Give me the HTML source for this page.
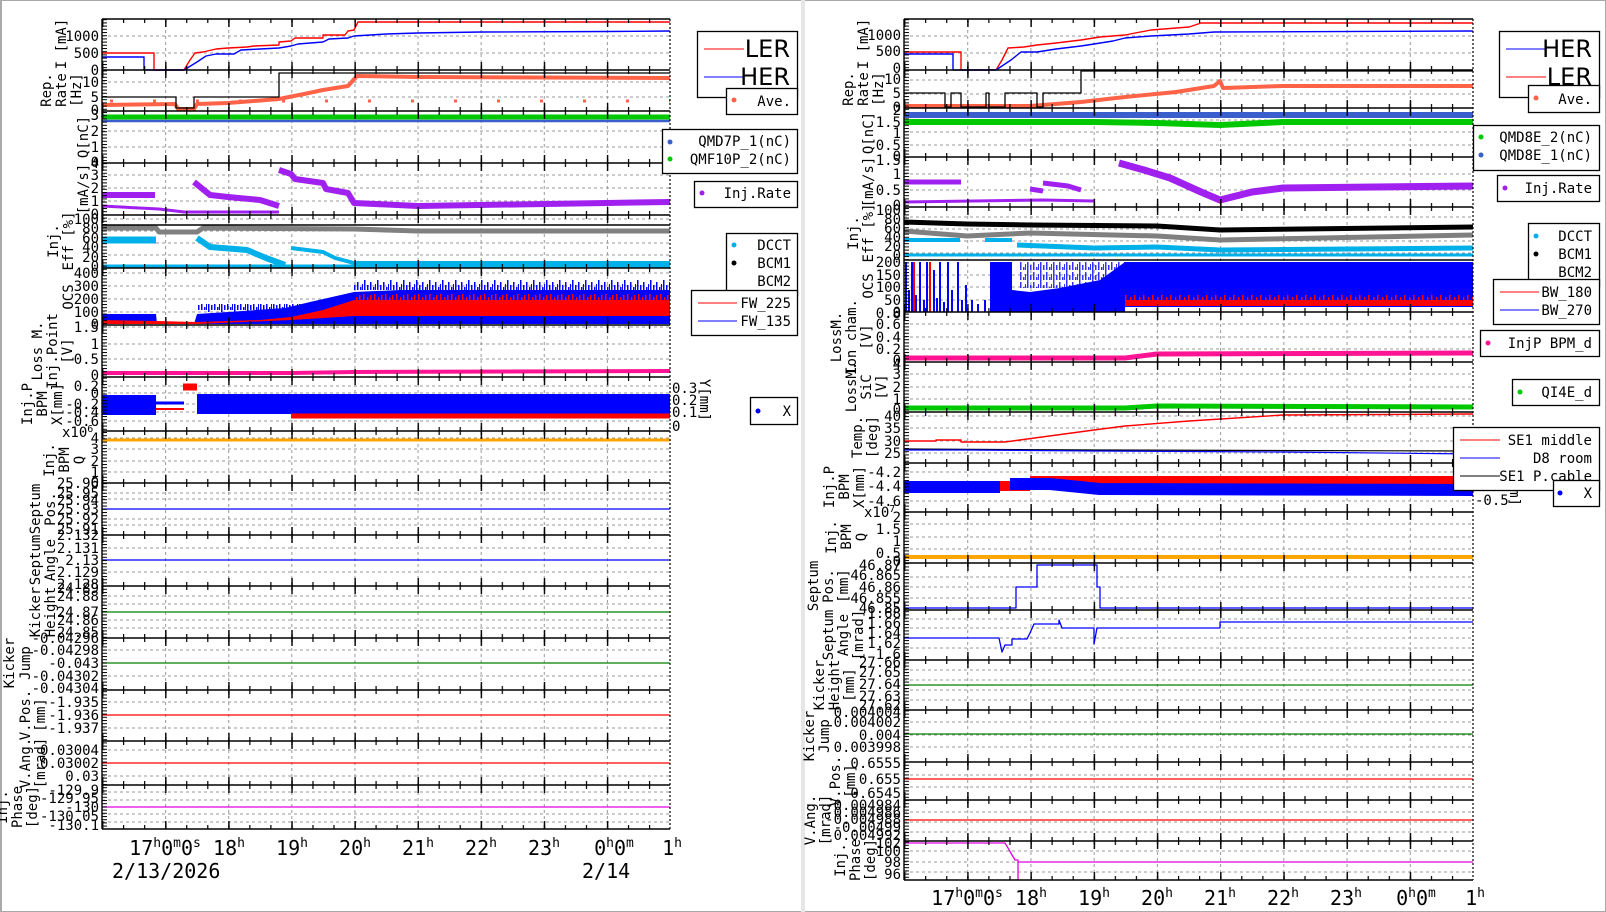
<!DOCTYPE html>
<html><head><meta charset="utf-8"><style>
html,body{margin:0;padding:0;background:#fff;}
svg{display:block;}
text{font-family:"DejaVu Sans Mono","Liberation Mono",monospace;fill:#000;}
.tk{font-size:14px;text-anchor:end;}
.yl{font-size:14px;text-anchor:middle;}
.xl{font-size:20px;text-anchor:middle;}
.lg{font-size:14px;text-anchor:end;}
</style></head><body>
<svg width="1606" height="912" viewBox="0 0 1606 912" xmlns="http://www.w3.org/2000/svg">
<defs>
<pattern id="mjL" x="102" y="0" width="63.111" height="2000" patternUnits="userSpaceOnUse"><rect x="0" y="0" width="1.4" height="2000" fill="#000"/></pattern>
<pattern id="miL" x="102" y="0" width="21.037" height="2000" patternUnits="userSpaceOnUse"><rect x="0" y="0" width="1.2" height="2000" fill="#000"/></pattern>
<pattern id="mjR" x="904" y="0" width="63.222" height="2000" patternUnits="userSpaceOnUse"><rect x="0" y="0" width="1.4" height="2000" fill="#000"/></pattern>
<pattern id="miR" x="904" y="0" width="21.074" height="2000" patternUnits="userSpaceOnUse"><rect x="0" y="0" width="1.2" height="2000" fill="#000"/></pattern>
<pattern id="gL" x="102" y="0" width="63.111" height="6" patternUnits="userSpaceOnUse"><rect x="0" y="0" width="1" height="3" fill="#999"/></pattern>
<pattern id="gR" x="904" y="0" width="63.222" height="6" patternUnits="userSpaceOnUse"><rect x="0" y="0" width="1" height="3" fill="#999"/></pattern>
<pattern id="yt" x="0" y="0" width="10" height="3.2" patternUnits="userSpaceOnUse"><rect x="0" y="0" width="10" height="1" fill="#000"/></pattern>
<pattern id="spB" x="0" y="280" width="13" height="10" patternUnits="userSpaceOnUse"><rect x="0" y="0" width="1.5" height="10" fill="#00f"/><rect x="3" y="5" width="1.5" height="5" fill="#00f"/><rect x="6" y="2" width="1.5" height="8" fill="#00f"/><rect x="9" y="7" width="1.5" height="3" fill="#00f"/><rect x="11" y="4" width="1" height="6" fill="#00f"/></pattern>
<pattern id="spR" x="0" y="294" width="11" height="6" patternUnits="userSpaceOnUse"><rect x="0" y="0" width="1.5" height="6" fill="#f00"/><rect x="4" y="3" width="1.5" height="3" fill="#f00"/><rect x="7" y="1" width="1.5" height="5" fill="#f00"/></pattern>
<pattern id="spR2" x="0" y="294" width="9" height="6" patternUnits="userSpaceOnUse"><rect x="0" y="1" width="1.5" height="5" fill="#f00"/><rect x="5" y="3" width="1.5" height="3" fill="#f00"/></pattern>
</defs>
<rect x="0" y="0" width="1606" height="912" fill="#fff"/>
<rect x="0.5" y="0.5" width="1605" height="911" fill="none" stroke="#aaa" stroke-width="1"/>
<rect x="0" y="0" width="2" height="912" fill="#aaa"/>
<rect x="801" y="0" width="4" height="912" fill="#e6e6e6"/>

<!-- grids -->
<rect x="103" y="19" width="566" height="810" fill="url(#gL)"/>
<rect x="905" y="19" width="567" height="861" fill="url(#gR)"/>
<path fill="none" stroke="#999" stroke-width="1" stroke-dasharray="3,3" d="M102 36H670M102 53H670M102 82H670M102 97H670M102 115H670M102 131H670M102 147H670M102 175H670M102 188H670M102 201H670M102 219H670M102 231H670M102 243H670M102 255H670M102 273H670M102 286H670M102 299H670M102 312H670M102 327H670M102 344H670M102 359H670M102 386H670M102 393H670M102 404H670M102 412H670M102 421H670M102 438H670M102 449H670M102 461H670M102 472H670M102 493H670M102 499H670M102 509H670M102 519H670M102 525H670M102 548H670M102 560H670M102 572H670M102 596H670M102 604H670M102 612H670M102 620H670M102 628H670M102 650H670M102 663H670M102 676H670M102 702H670M102 715H670M102 728H670M102 750H670M102 763H670M102 776H670M102 792H670M102 800H670M102 807H670M102 814H670M102 822H670"/>
<path fill="none" stroke="#999" stroke-width="1" stroke-dasharray="3,3" d="M904 36H1473M904 53H1473M904 80H1473M904 94H1473M904 120H1473M904 132H1473M904 145H1473M904 174H1473M904 190H1473M904 217H1473M904 229H1473M904 241H1473M904 253H1473M904 275H1473M904 287H1473M904 300H1473M904 324H1473M904 337H1473M904 349H1473M904 374H1473M904 387H1473M904 399H1473M904 416H1473M904 428H1473M904 441H1473M904 453H1473M904 472H1473M904 486H1473M904 501H1473M904 524H1473M904 537H1473M904 549H1473M904 577H1473M904 587H1473M904 598H1473M904 619H1473M904 628H1473M904 638H1473M904 648H1473M904 670H1473M904 680H1473M904 690H1473M904 700H1473M904 722H1473M904 735H1473M904 747H1473M904 775H1473M904 787H1473M904 812H1473M904 822H1473M904 832H1473M904 851H1473M904 862H1473M904 872H1473"/>

<!-- ===== LEFT DATA ===== -->
<g fill="none" stroke-linejoin="round">
<path stroke="#f00" stroke-width="1.4" d="M102 53H154V70H184L190 60L195 53L203 52L216 49L228 48L247 47L254 46L279 45V42L291 41L295 38H323V35H345L348 31L354 30L358 22H670"/>
<path stroke="#00f" stroke-width="1.4" d="M102 57H144V70H184L197 62L206 56L216 54H234L241 50L260 49L279 48L291 46L298 44L323 42L329 39L348 38L354 36L386 34L418 33L481 32L607 31.5L670 31"/>
<path stroke="#ff6347" stroke-width="4" d="M102 105L175 104L178 109L194 109L197 104L228 103L279 99L304 94L323 90L348 86L357 76L418 77L670 78"/>
<path stroke="#000" stroke-width="1.3" d="M102 97H176V108H194V97H279V73H670"/>
<path stroke="#ff6347" stroke-width="3" stroke-dasharray="3,40" d="M110 101H670"/>
<path stroke="#3a5fcd" stroke-width="2.5" d="M102 121H670"/>
<path stroke="#00c800" stroke-width="5" d="M102 117H670"/>
<path stroke="#a020f0" stroke-width="6" d="M102 195H155"/>
<path stroke="#a020f0" stroke-width="3" d="M102 206L159 209L184 212L279 212"/>
<path stroke="#a020f0" stroke-width="6" d="M194 182L210 195L228 197L260 200L279 206"/>
<path stroke="#a020f0" stroke-width="6" d="M279 170L291 174L295 179L323 183L326 189L348 193L354 203L418 206L670 202"/>
<path stroke="#808080" stroke-width="5" d="M102 228H156L159 232H197L203 228L354 229L418 231H670"/>
<path stroke="#000" stroke-width="1.5" d="M102 225H670"/>
<path stroke="#00b0e8" stroke-width="7" d="M102 240H156"/>
<path stroke="#00b0e8" stroke-width="6" d="M197 238L210 247L247 250L266 258L285 265"/>
<path stroke="#00b0e8" stroke-width="4" d="M291 248L323 252L335 258L354 263H670"/>
<path stroke="#00b0e8" stroke-width="3" d="M102 266H670"/>
<path stroke="#ff1493" stroke-width="4" d="M102 373L291 373L354 372L670 371"/>
<path stroke="#ff0000" stroke-width="8" d="M197 400H279"/>
<path stroke="#ff0000" stroke-width="7" d="M183 387H197"/>
<path stroke="#0000ff" stroke-width="20" d="M102 405H156"/>
<path stroke="#0000ff" stroke-width="3" d="M156 403H184"/>
<path stroke="#ff0000" stroke-width="2" d="M156 409H184"/>
<path stroke="#0000ff" stroke-width="20" d="M197 404H670"/>
<path stroke="#ff0000" stroke-width="5" d="M291 416H670"/>
<path stroke="#ffa500" stroke-width="3" d="M102 440H670"/>
<path stroke="#00f" stroke-width="1.3" d="M102 509H670M102 560H670"/>
<path stroke="#008000" stroke-width="1.3" d="M102 612H670M102 663H670"/>
<path stroke="#f00" stroke-width="1.3" d="M102 715H670M102 763H670"/>
<path stroke="#e000e0" stroke-width="1.3" d="M102 807H670"/>
</g>
<path fill="#00f" d="M102 324L102 314L156 314L157 324L194 324L197 314L228 312L285 308L310 302L354 292L400 290L500 290L600 290L670 290L670 324Z"/>
<rect x="354" y="280" width="316" height="10" fill="url(#spB)"/>
<rect x="197" y="304" width="157" height="8" fill="url(#spB)"/>
<path fill="#f00" d="M102 320L156 321L197 322L260 320L291 317L323 310L354 300L670 300L670 316L354 316L291 320L197 324L102 324Z"/>
<rect x="354" y="294" width="316" height="6" fill="url(#spR)"/>

<!-- ===== RIGHT DATA ===== -->
<g fill="none" stroke-linejoin="round">
<path stroke="#f00" stroke-width="1.4" d="M904 52H961V70H996L1002 60L1008 48L1024 47L1037 45L1056 43L1081 40L1100 37L1125 35L1151 30L1189 27L1201 23H1473"/>
<path stroke="#00f" stroke-width="1.4" d="M904 54H953V70H996L1011 60L1021 52L1037 52L1056 49L1081 46L1094 44L1113 41L1125 38L1151 36L1189 34L1214 32L1473 31"/>
<path stroke="#ff6347" stroke-width="4" d="M904 106L1030 106L1081 102L1125 97L1176 92L1214 86L1220 81L1223 88L1283 86L1473 86"/>
<path stroke="#000" stroke-width="1.3" d="M904 93H945V107H951V93H961V107H986V93H989V107H1005V93H1037V107H1043V93H1081V71H1473"/>
<path stroke="#3a5fcd" stroke-width="6" d="M904 115H1473"/>
<path stroke="#00c800" stroke-width="6" d="M904 122L1094 122L1157 123L1220 125L1283 122L1473 122"/>
<path stroke="#a020f0" stroke-width="5" d="M904 182H961"/>
<path stroke="#a020f0" stroke-width="3" d="M904 202L1043 200L1094 201"/>
<path stroke="#a020f0" stroke-width="5" d="M1030 189L1043 191M1043 183L1068 186L1081 190"/>
<path stroke="#a020f0" stroke-width="7" d="M1119 163L1144 170L1170 178L1201 192L1220 200L1252 192L1283 188L1473 186"/>
<path stroke="#000" stroke-width="5" d="M904 222L967 224L1030 225L1157 226L1220 230L1473 227"/>
<path stroke="#808080" stroke-width="5" d="M904 231L967 236L1030 233L1157 236L1220 240L1473 235"/>
<path stroke="#00b0e8" stroke-width="5" d="M1017 245L1094 248L1157 247L1220 250L1473 248"/>
<path stroke="#00b0e8" stroke-width="4" d="M904 240H960M985 240H1012"/>
<path stroke="#00b0e8" stroke-width="3" d="M904 255H1473"/>
<path stroke="#00f" stroke-width="2" d="M906 312V262M909 312V290M912 312V262M916 312V295M920 312V262M924 312V300M927 312V262M934 312V270M937 312V298M940 312V262M944 312V302M948 312V262M952 312V290M958 312V262M962 312V300M966 312V285M972 312V300M978 312V304M985 312V300"/>
<path stroke="#f00" stroke-width="2" d="M914 312V262M930 312V262M1003 312V262M1008 312V270"/>
<path stroke="#ff1493" stroke-width="5" d="M904 358L1125 358L1157 354L1473 353"/>
<path stroke="#00c800" stroke-width="5" d="M904 408L1125 408L1157 406L1473 407"/>
<path stroke="#f00" stroke-width="1.4" d="M904 441H936V440H961V442H1005L1094 430L1125 426L1189 421L1283 415L1473 414"/>
<path stroke="#000" stroke-width="1.2" d="M904 449L1094 450L1473 451"/>
<path stroke="#00f" stroke-width="1.2" d="M904 450L967 450L1094 451L1283 452L1473 454"/>
<path stroke="#f00" stroke-width="10" d="M1000 486H1030M1030 481H1473"/>
<path stroke="#00f" stroke-width="12" d="M904 487H1000M1010 484H1050L1100 489L1473 490"/>
<path stroke="#ffa500" stroke-width="4" d="M904 557H1473"/>
<path stroke="#00f" stroke-width="1.3" d="M904 608H1016V587H1037V565H1097V587H1100V608H1473"/>
<path stroke="#00f" stroke-width="1.3" d="M904 638H999L1002 652L1005 645H1012V639H1027L1030 633L1034 624H1059V620L1062 628H1094V644L1097 628H1220V622H1473"/>
<path stroke="#008000" stroke-width="1.3" d="M904 685H1473M904 734H1473"/>
<path stroke="#f00" stroke-width="1.3" d="M904 779H1473M904 820H1473"/>
<path stroke="#e000e0" stroke-width="1.3" d="M904 843H1005L1008 848L1012 855L1015 860H1018V880M1018 862H1473"/>
</g>
<path fill="#00f" d="M990 312V262H1000V262L1012 262V290L1030 292L1060 288L1100 280L1125 262V312Z"/>
<rect x="1020" y="262" width="105" height="26" fill="url(#spB)" opacity="0.8"/>
<rect x="1125" y="262" width="348" height="45" fill="#00f"/>
<rect x="1125" y="300" width="348" height="6" fill="#f00"/>
<rect x="1125" y="294" width="348" height="6" fill="url(#spR2)"/>

<!-- frames & ticks LEFT -->
<path fill="none" stroke="#000" stroke-width="1.4" d="M102 19H670M102 70H670M102 111H670M102 163H670M102 215H670M102 268H670M102 325H670M102 377H670M102 431H670M102 483H670M102 535H670M102 586H670M102 638H670M102 690H670M102 741H670M102 785H670M102 829H670M102 19V829"/>
<path fill="none" stroke="#000" stroke-width="1.2" stroke-dasharray="2,2" d="M670 19V829"/>
<g>
<rect x="102" y="19" width="568" height="8" fill="url(#mjL)"/><rect x="102" y="19" width="568" height="4" fill="url(#miL)"/>
<rect x="102" y="62" width="568" height="16" fill="url(#mjL)"/><rect x="102" y="66" width="568" height="8" fill="url(#miL)"/>
<rect x="102" y="103" width="568" height="16" fill="url(#mjL)"/><rect x="102" y="107" width="568" height="8" fill="url(#miL)"/>
<rect x="102" y="155" width="568" height="16" fill="url(#mjL)"/><rect x="102" y="159" width="568" height="8" fill="url(#miL)"/>
<rect x="102" y="207" width="568" height="16" fill="url(#mjL)"/><rect x="102" y="211" width="568" height="8" fill="url(#miL)"/>
<rect x="102" y="260" width="568" height="16" fill="url(#mjL)"/><rect x="102" y="264" width="568" height="8" fill="url(#miL)"/>
<rect x="102" y="317" width="568" height="16" fill="url(#mjL)"/><rect x="102" y="321" width="568" height="8" fill="url(#miL)"/>
<rect x="102" y="369" width="568" height="16" fill="url(#mjL)"/><rect x="102" y="373" width="568" height="8" fill="url(#miL)"/>
<rect x="102" y="423" width="568" height="16" fill="url(#mjL)"/><rect x="102" y="427" width="568" height="8" fill="url(#miL)"/>
<rect x="102" y="475" width="568" height="16" fill="url(#mjL)"/><rect x="102" y="479" width="568" height="8" fill="url(#miL)"/>
<rect x="102" y="527" width="568" height="16" fill="url(#mjL)"/><rect x="102" y="531" width="568" height="8" fill="url(#miL)"/>
<rect x="102" y="578" width="568" height="16" fill="url(#mjL)"/><rect x="102" y="582" width="568" height="8" fill="url(#miL)"/>
<rect x="102" y="630" width="568" height="16" fill="url(#mjL)"/><rect x="102" y="634" width="568" height="8" fill="url(#miL)"/>
<rect x="102" y="682" width="568" height="16" fill="url(#mjL)"/><rect x="102" y="686" width="568" height="8" fill="url(#miL)"/>
<rect x="102" y="733" width="568" height="16" fill="url(#mjL)"/><rect x="102" y="737" width="568" height="8" fill="url(#miL)"/>
<rect x="102" y="777" width="568" height="16" fill="url(#mjL)"/><rect x="102" y="781" width="568" height="8" fill="url(#miL)"/>
<rect x="102" y="821" width="568" height="8" fill="url(#mjL)"/><rect x="102" y="825" width="568" height="4" fill="url(#miL)"/>
<rect x="102" y="19" width="5" height="810" fill="url(#yt)"/>
</g>
<!-- frames & ticks RIGHT -->
<path fill="none" stroke="#000" stroke-width="1.4" d="M904 19H1473M904 70H1473M904 108H1473M904 157H1473M904 207H1473M904 260H1473M904 312H1473M904 362H1473M904 412H1473M904 463H1473M904 512H1473M904 563H1473M904 610H1473M904 660H1473M904 710H1473M904 762H1473M904 800H1473M904 841H1473M904 880H1473M904 19V880"/>
<path fill="none" stroke="#000" stroke-width="1.2" stroke-dasharray="2,2" d="M1473 19V880"/>
<g>
<rect x="904" y="19" width="569" height="8" fill="url(#mjR)"/><rect x="904" y="19" width="569" height="4" fill="url(#miR)"/>
<rect x="904" y="62" width="569" height="16" fill="url(#mjR)"/><rect x="904" y="66" width="569" height="8" fill="url(#miR)"/>
<rect x="904" y="100" width="569" height="16" fill="url(#mjR)"/><rect x="904" y="104" width="569" height="8" fill="url(#miR)"/>
<rect x="904" y="149" width="569" height="16" fill="url(#mjR)"/><rect x="904" y="153" width="569" height="8" fill="url(#miR)"/>
<rect x="904" y="199" width="569" height="16" fill="url(#mjR)"/><rect x="904" y="203" width="569" height="8" fill="url(#miR)"/>
<rect x="904" y="304" width="569" height="16" fill="url(#mjR)"/><rect x="904" y="308" width="569" height="8" fill="url(#miR)"/>
<rect x="904" y="354" width="569" height="16" fill="url(#mjR)"/><rect x="904" y="358" width="569" height="8" fill="url(#miR)"/>
<rect x="904" y="404" width="569" height="16" fill="url(#mjR)"/><rect x="904" y="408" width="569" height="8" fill="url(#miR)"/>
<rect x="904" y="455" width="569" height="16" fill="url(#mjR)"/><rect x="904" y="459" width="569" height="8" fill="url(#miR)"/>
<rect x="904" y="504" width="569" height="16" fill="url(#mjR)"/><rect x="904" y="508" width="569" height="8" fill="url(#miR)"/>
<rect x="904" y="555" width="569" height="16" fill="url(#mjR)"/><rect x="904" y="559" width="569" height="8" fill="url(#miR)"/>
<rect x="904" y="602" width="569" height="16" fill="url(#mjR)"/><rect x="904" y="606" width="569" height="8" fill="url(#miR)"/>
<rect x="904" y="652" width="569" height="16" fill="url(#mjR)"/><rect x="904" y="656" width="569" height="8" fill="url(#miR)"/>
<rect x="904" y="702" width="569" height="16" fill="url(#mjR)"/><rect x="904" y="706" width="569" height="8" fill="url(#miR)"/>
<rect x="904" y="754" width="569" height="16" fill="url(#mjR)"/><rect x="904" y="758" width="569" height="8" fill="url(#miR)"/>
<rect x="904" y="792" width="569" height="16" fill="url(#mjR)"/><rect x="904" y="796" width="569" height="8" fill="url(#miR)"/>
<rect x="904" y="833" width="569" height="16" fill="url(#mjR)"/><rect x="904" y="837" width="569" height="8" fill="url(#miR)"/>
<rect x="904" y="872" width="569" height="8" fill="url(#mjR)"/><rect x="904" y="876" width="569" height="4" fill="url(#miR)"/>
<rect x="904" y="19" width="5" height="861" fill="url(#yt)"/>
</g>

<!-- LEFT tick labels -->
<g class="tk">
<text x="99" y="41">1000</text><text x="99" y="58">500</text><text x="99" y="75">0</text>
<text x="99" y="87">10</text><text x="99" y="102">5</text><text x="99" y="115">0</text>
<text x="99" y="120">3</text><text x="99" y="136">2</text><text x="99" y="152">1</text><text x="99" y="167">0</text>
<text x="99" y="168">4</text><text x="99" y="180">3</text><text x="99" y="193">2</text><text x="99" y="206">1</text><text x="99" y="219">0</text>
<text x="99" y="224">100</text><text x="99" y="233">80</text><text x="99" y="243">60</text><text x="99" y="252">40</text><text x="99" y="262">20</text><text x="99" y="271">0</text>
<text x="99" y="278">400</text><text x="99" y="291">300</text><text x="99" y="304">200</text><text x="99" y="317">100</text><text x="99" y="329">0</text>
<text x="99" y="332">1.5</text><text x="99" y="349">1</text><text x="99" y="364">0.5</text><text x="99" y="380">0</text>
<text x="99" y="391">0.2</text><text x="99" y="398">0</text><text x="99" y="409">-0.2</text><text x="99" y="417">-0.4</text><text x="99" y="426">-0.6</text>
<text x="62" y="437" style="text-anchor:start">x10<tspan dy="-5" font-size="10">6</tspan></text>
<text x="99" y="443">4</text><text x="99" y="454">3</text><text x="99" y="466">2</text><text x="99" y="477">1</text><text x="99" y="487">0</text>
<text x="99" y="488">25.96</text><text x="99" y="498">25.95</text><text x="99" y="505">25.94</text><text x="99" y="514">25.93</text><text x="99" y="524">25.92</text><text x="99" y="534">25.91</text>
<text x="99" y="540">2.132</text><text x="99" y="553">2.131</text><text x="99" y="565">2.13</text><text x="99" y="577">2.129</text><text x="99" y="589">2.128</text>
<text x="99" y="593">24.89</text><text x="99" y="601">24.88</text><text x="99" y="617">24.87</text><text x="99" y="625">24.86</text><text x="99" y="637">24.85</text>
<text x="99" y="643">-0.04296</text><text x="99" y="655">-0.04298</text><text x="99" y="668">-0.043</text><text x="99" y="681">-0.04302</text><text x="99" y="693">-0.04304</text>
<text x="99" y="707">-1.935</text><text x="99" y="720">-1.936</text><text x="99" y="733">-1.937</text>
<text x="99" y="755">0.03004</text><text x="99" y="768">0.03002</text><text x="99" y="781">0.03</text>
<text x="99" y="795">-129.9</text><text x="99" y="803">-129.95</text><text x="99" y="812">-130</text><text x="99" y="821">-130.05</text><text x="99" y="830">-130.1</text>
</g>
<g class="tk" style="text-anchor:start">
<text x="672" y="393">0.3</text><text x="672" y="405">0.2</text><text x="672" y="417">0.1</text><text x="672" y="431">0</text>
</g>
<text class="yl" transform="translate(700,400) rotate(90)">Y[mm]</text>

<g class="yl">
<text transform="translate(66,44) rotate(-90)">I [mA]</text>
<text transform="translate(51,90) rotate(-90)">Rep.</text>
<text transform="translate(66,90) rotate(-90)">Rate</text>
<text transform="translate(81,90) rotate(-90)">[Hz]</text>
<text transform="translate(88,137) rotate(-90)">Q[nC]</text>
<text transform="translate(88,189) rotate(-90)">[mA/s]</text>
<text transform="translate(58,241) rotate(-90)">Inj.</text>
<text transform="translate(73,241) rotate(-90)">Eff [%]</text>
<text transform="translate(73,297) rotate(-90)">OCS</text>
<text transform="translate(42,351) rotate(-90)">Loss M.</text>
<text transform="translate(57,351) rotate(-90)">Inj.Point</text>
<text transform="translate(72,351) rotate(-90)">[V]</text>
<text transform="translate(32,404) rotate(-90)">Inj.P</text>
<text transform="translate(47,404) rotate(-90)">BPM</text>
<text transform="translate(62,404) rotate(-90)">X[mm]</text>
<text transform="translate(54,460) rotate(-90)">Inj.</text>
<text transform="translate(69,460) rotate(-90)">BPM</text>
<text transform="translate(84,460) rotate(-90)">Q</text>
<text transform="translate(40,509) rotate(-90)">Septum</text>
<text transform="translate(55,509) rotate(-90)">Pos.</text>
<text transform="translate(40,560) rotate(-90)">Septum</text>
<text transform="translate(55,560) rotate(-90)">Angle</text>
<text transform="translate(40,612) rotate(-90)">Kicker</text>
<text transform="translate(55,612) rotate(-90)">Height</text>
<text transform="translate(14,663) rotate(-90)">Kicker</text>
<text transform="translate(30,663) rotate(-90)">Jump</text>
<text transform="translate(30,715) rotate(-90)">V.Pos.</text>
<text transform="translate(45,715) rotate(-90)">[mm]</text>
<text transform="translate(30,763) rotate(-90)">V.Ang.</text>
<text transform="translate(45,763) rotate(-90)">[mrad]</text>
<text transform="translate(7,807) rotate(-90)">Inj.</text>
<text transform="translate(22,807) rotate(-90)">Phase</text>
<text transform="translate(37,807) rotate(-90)">[deg]</text>
</g>

<g class="xl">
<text x="165" y="855">17<tspan dy="-8" font-size="13">h</tspan><tspan dy="8">0</tspan><tspan dy="-8" font-size="13">m</tspan><tspan dy="8">0</tspan><tspan dy="-8" font-size="13">s</tspan></text>
<text x="229" y="855">18<tspan dy="-8" font-size="13">h</tspan></text>
<text x="292" y="855">19<tspan dy="-8" font-size="13">h</tspan></text>
<text x="355" y="855">20<tspan dy="-8" font-size="13">h</tspan></text>
<text x="418" y="855">21<tspan dy="-8" font-size="13">h</tspan></text>
<text x="481" y="855">22<tspan dy="-8" font-size="13">h</tspan></text>
<text x="544" y="855">23<tspan dy="-8" font-size="13">h</tspan></text>
<text x="614" y="855">0<tspan dy="-8" font-size="13">h</tspan><tspan dy="8">0</tspan><tspan dy="-8" font-size="13">m</tspan></text>
<text x="672" y="855">1<tspan dy="-8" font-size="13">h</tspan></text>
<text x="112" y="878" style="text-anchor:start">2/13/2026</text>
<text x="582" y="878" style="text-anchor:start">2/14</text>
</g>

<!-- RIGHT tick labels -->
<g class="tk">
<text x="901" y="40">1000</text><text x="901" y="56">500</text><text x="901" y="73">0</text>
<text x="901" y="84">10</text><text x="901" y="98">5</text><text x="901" y="112">0</text>
<text x="901" y="115">2</text><text x="901" y="127">1.5</text><text x="901" y="138">1</text><text x="901" y="150">0.5</text><text x="901" y="161">0</text>
<text x="901" y="165">1.5</text><text x="901" y="179">1</text><text x="901" y="195">0.5</text><text x="901" y="210">0</text>
<text x="901" y="215">100</text><text x="901" y="224">80</text><text x="901" y="233">60</text><text x="901" y="242">40</text><text x="901" y="251">20</text><text x="901" y="260">0</text>
<text x="901" y="267">200</text><text x="901" y="280">150</text><text x="901" y="292">100</text><text x="901" y="305">50</text><text x="901" y="317">0</text>
<text x="901" y="318">0.8</text><text x="901" y="329">0.6</text><text x="901" y="342">0.4</text><text x="901" y="354">0.2</text><text x="901" y="365">0</text>
<text x="901" y="369">4</text><text x="901" y="379">3</text><text x="901" y="392">2</text><text x="901" y="404">1</text><text x="901" y="414">0</text>
<text x="901" y="421">40</text><text x="901" y="433">35</text><text x="901" y="446">30</text><text x="901" y="458">25</text>
<text x="901" y="477">-4.2</text><text x="901" y="491">-4.4</text><text x="901" y="506">-4.6</text>
<text x="864" y="517" style="text-anchor:start">x10<tspan dy="-5" font-size="10">7</tspan></text>
<text x="901" y="522">2</text><text x="901" y="534">1.5</text><text x="901" y="546">1</text><text x="901" y="558">0.5</text><text x="901" y="566">0</text>
<text x="901" y="570">46.87</text><text x="901" y="580">46.865</text><text x="901" y="592">46.86</text><text x="901" y="603">46.855</text><text x="901" y="613">46.85</text>
<text x="901" y="618">1.68</text><text x="901" y="628">1.66</text><text x="901" y="638">1.64</text><text x="901" y="648">1.62</text><text x="901" y="659">1.6</text>
<text x="901" y="667">27.66</text><text x="901" y="677">27.65</text><text x="901" y="689">27.64</text><text x="901" y="701">27.63</text><text x="901" y="710">27.62</text>
<text x="901" y="717">0.004004</text><text x="901" y="727">0.004002</text><text x="901" y="740">0.004</text><text x="901" y="752">0.003998</text>
<text x="901" y="768">0.6555</text><text x="901" y="784">0.655</text><text x="901" y="798">0.6545</text>
<text x="901" y="810">-0.004984</text><text x="901" y="817">-0.004986</text><text x="901" y="824">-0.004988</text><text x="901" y="832">-0.00499</text><text x="901" y="840">-0.004992</text>
<text x="901" y="848">102</text><text x="901" y="856">100</text><text x="901" y="867">98</text><text x="901" y="879">96</text>
</g>
<g class="tk" style="text-anchor:start">
<text x="1475" y="487">0</text><text x="1475" y="505">-0.5</text>
</g>
<text class="yl" transform="translate(1510,485) rotate(90)">Y[mm]</text>

<g class="yl">
<text transform="translate(868,44) rotate(-90)">I [mA]</text>
<text transform="translate(853,89) rotate(-90)">Rep.</text>
<text transform="translate(868,89) rotate(-90)">Rate</text>
<text transform="translate(883,89) rotate(-90)">[Hz]</text>
<text transform="translate(873,133) rotate(-90)">Q[nC]</text>
<text transform="translate(873,182) rotate(-90)">[mA/s]</text>
<text transform="translate(858,233) rotate(-90)">Inj.</text>
<text transform="translate(873,233) rotate(-90)">Eff [%]</text>
<text transform="translate(873,286) rotate(-90)">OCS</text>
<text transform="translate(841,337) rotate(-90)">LossM.</text>
<text transform="translate(856,337) rotate(-90)">Ion cham.</text>
<text transform="translate(871,337) rotate(-90)">[V]</text>
<text transform="translate(856,387) rotate(-90)">LossM.</text>
<text transform="translate(871,387) rotate(-90)">SiC</text>
<text transform="translate(886,387) rotate(-90)">[V]</text>
<text transform="translate(862,437) rotate(-90)">Temp.</text>
<text transform="translate(877,437) rotate(-90)">[deg]</text>
<text transform="translate(834,487) rotate(-90)">Inj.P</text>
<text transform="translate(849,487) rotate(-90)">BPM</text>
<text transform="translate(864,487) rotate(-90)">X[mm]</text>
<text transform="translate(836,537) rotate(-90)">Inj.</text>
<text transform="translate(851,537) rotate(-90)">BPM</text>
<text transform="translate(866,537) rotate(-90)">Q</text>
<text transform="translate(818,586) rotate(-90)">Septum</text>
<text transform="translate(833,586) rotate(-90)">Pos.</text>
<text transform="translate(848,586) rotate(-90)">[mm]</text>
<text transform="translate(833,635) rotate(-90)">Septum</text>
<text transform="translate(848,635) rotate(-90)">Angle</text>
<text transform="translate(863,635) rotate(-90)">[mrad]</text>
<text transform="translate(824,685) rotate(-90)">Kicker</text>
<text transform="translate(839,685) rotate(-90)">Height</text>
<text transform="translate(854,685) rotate(-90)">[mm]</text>
<text transform="translate(814,736) rotate(-90)">Kicker</text>
<text transform="translate(829,736) rotate(-90)">Jump</text>
<text transform="translate(840,781) rotate(-90)">V.Pos.</text>
<text transform="translate(855,781) rotate(-90)">[mm]</text>
<text transform="translate(815,820) rotate(-90)">V.Ang.</text>
<text transform="translate(830,820) rotate(-90)">[mrad]</text>
<text transform="translate(845,860) rotate(-90)">Inj.</text>
<text transform="translate(860,860) rotate(-90)">Phase</text>
<text transform="translate(875,860) rotate(-90)">[deg]</text>
</g>

<g class="xl">
<text x="967" y="905">17<tspan dy="-8" font-size="13">h</tspan><tspan dy="8">0</tspan><tspan dy="-8" font-size="13">m</tspan><tspan dy="8">0</tspan><tspan dy="-8" font-size="13">s</tspan></text>
<text x="1031" y="905">18<tspan dy="-8" font-size="13">h</tspan></text>
<text x="1094" y="905">19<tspan dy="-8" font-size="13">h</tspan></text>
<text x="1157" y="905">20<tspan dy="-8" font-size="13">h</tspan></text>
<text x="1220" y="905">21<tspan dy="-8" font-size="13">h</tspan></text>
<text x="1283" y="905">22<tspan dy="-8" font-size="13">h</tspan></text>
<text x="1346" y="905">23<tspan dy="-8" font-size="13">h</tspan></text>
<text x="1416" y="905">0<tspan dy="-8" font-size="13">h</tspan><tspan dy="8">0</tspan><tspan dy="-8" font-size="13">m</tspan></text>
<text x="1475" y="905">1<tspan dy="-8" font-size="13">h</tspan></text>
</g>

<!-- LEFT legends -->
<g fill="#fff" stroke="#000" stroke-width="1.3">
<rect x="697.5" y="31.5" width="100" height="66"/>
<rect x="726.5" y="88.5" width="71" height="26"/>
<rect x="662.5" y="129.5" width="135" height="44"/>
<rect x="694.5" y="181.5" width="103" height="26"/>
<rect x="726.5" y="233.5" width="71" height="62"/>
<rect x="691.5" y="290.5" width="106" height="45"/>
<rect x="750.5" y="397.5" width="47" height="27"/>
</g>
<line x1="704" y1="49" x2="744" y2="49" stroke="#f00"/>
<line x1="704" y1="77" x2="744" y2="77" stroke="#00f"/>
<text x="790" y="57" style="font-family:'DejaVu Sans','Liberation Sans',sans-serif;font-size:24px;text-anchor:end">LER</text>
<text x="790" y="85" style="font-family:'DejaVu Sans','Liberation Sans',sans-serif;font-size:24px;text-anchor:end">HER</text>
<circle cx="734" cy="100" r="2.5" fill="#ff6347"/><text class="lg" x="791" y="106">Ave.</text>
<circle cx="670" cy="142" r="2.5" fill="#3a5fcd"/><text class="lg" x="791" y="146">QMD7P_1(nC)</text>
<circle cx="670" cy="159" r="2.5" fill="#00c800"/><text class="lg" x="791" y="164">QMF10P_2(nC)</text>
<circle cx="702" cy="193" r="2.5" fill="#a020f0"/><text class="lg" x="791" y="198">Inj.Rate</text>
<circle cx="734" cy="245" r="2.5" fill="#00b0e8"/><text class="lg" x="791" y="250">DCCT</text>
<circle cx="734" cy="263" r="2.5" fill="#000"/><text class="lg" x="791" y="268">BCM1</text>
<text class="lg" x="791" y="286">BCM2</text>
<line x1="698" y1="303" x2="737" y2="303" stroke="#f00"/><text class="lg" x="791" y="308">FW_225</text>
<line x1="698" y1="321" x2="737" y2="321" stroke="#00f"/><text class="lg" x="791" y="326">FW_135</text>
<circle cx="758" cy="411" r="2.5" fill="#00f"/><text class="lg" x="791" y="416">X</text>

<!-- RIGHT legends -->
<g fill="#fff" stroke="#000" stroke-width="1.3">
<rect x="1499.5" y="31.5" width="100" height="66"/>
<rect x="1528.5" y="85.5" width="71" height="27"/>
<rect x="1473.5" y="125.5" width="126" height="45"/>
<rect x="1497.5" y="175.5" width="102" height="26"/>
<rect x="1528.5" y="223.5" width="71" height="63"/>
<rect x="1493.5" y="279.5" width="106" height="45"/>
<rect x="1480.5" y="330.5" width="119" height="26"/>
<rect x="1512.5" y="379.5" width="87" height="26"/>
<rect x="1453.5" y="427.5" width="146" height="63"/>
<rect x="1553.5" y="480.5" width="46" height="26"/>
</g>
<line x1="1506" y1="49" x2="1546" y2="49" stroke="#00f"/>
<line x1="1506" y1="77" x2="1546" y2="77" stroke="#f00"/>
<text x="1592" y="57" style="font-family:'DejaVu Sans','Liberation Sans',sans-serif;font-size:24px;text-anchor:end">HER</text>
<text x="1592" y="85" style="font-family:'DejaVu Sans','Liberation Sans',sans-serif;font-size:24px;text-anchor:end">LER</text>
<circle cx="1536" cy="98" r="2.5" fill="#ff6347"/><text class="lg" x="1592" y="104">Ave.</text>
<circle cx="1481" cy="137" r="2.5" fill="#00c800"/><text class="lg" x="1592" y="142">QMD8E_2(nC)</text>
<circle cx="1481" cy="155" r="2.5" fill="#3a5fcd"/><text class="lg" x="1592" y="160">QMD8E_1(nC)</text>
<circle cx="1505" cy="188" r="2.5" fill="#a020f0"/><text class="lg" x="1592" y="193">Inj.Rate</text>
<circle cx="1536" cy="236" r="2.5" fill="#00b0e8"/><text class="lg" x="1592" y="241">DCCT</text>
<circle cx="1536" cy="254" r="2.5" fill="#000"/><text class="lg" x="1592" y="259">BCM1</text>
<text class="lg" x="1592" y="277">BCM2</text>
<line x1="1500" y1="292" x2="1539" y2="292" stroke="#f00"/><text class="lg" x="1592" y="297">BW_180</text>
<line x1="1500" y1="310" x2="1539" y2="310" stroke="#00f"/><text class="lg" x="1592" y="315">BW_270</text>
<circle cx="1488" cy="343" r="2.5" fill="#ff1493"/><text class="lg" x="1592" y="348">InjP BPM_d</text>
<circle cx="1520" cy="392" r="2.5" fill="#00c800"/><text class="lg" x="1592" y="397">QI4E_d</text>
<line x1="1460" y1="440" x2="1500" y2="440" stroke="#f00"/><text class="lg" x="1592" y="445">SE1 middle</text>
<line x1="1460" y1="458" x2="1500" y2="458" stroke="#00f"/><text class="lg" x="1592" y="463">D8 room</text>
<line x1="1460" y1="476" x2="1500" y2="476" stroke="#000"/><text class="lg" x="1592" y="481">SE1 P.cable</text>
<circle cx="1560" cy="493" r="2.5" fill="#00f"/><text class="lg" x="1592" y="498">X</text>
</svg>
</body></html>
